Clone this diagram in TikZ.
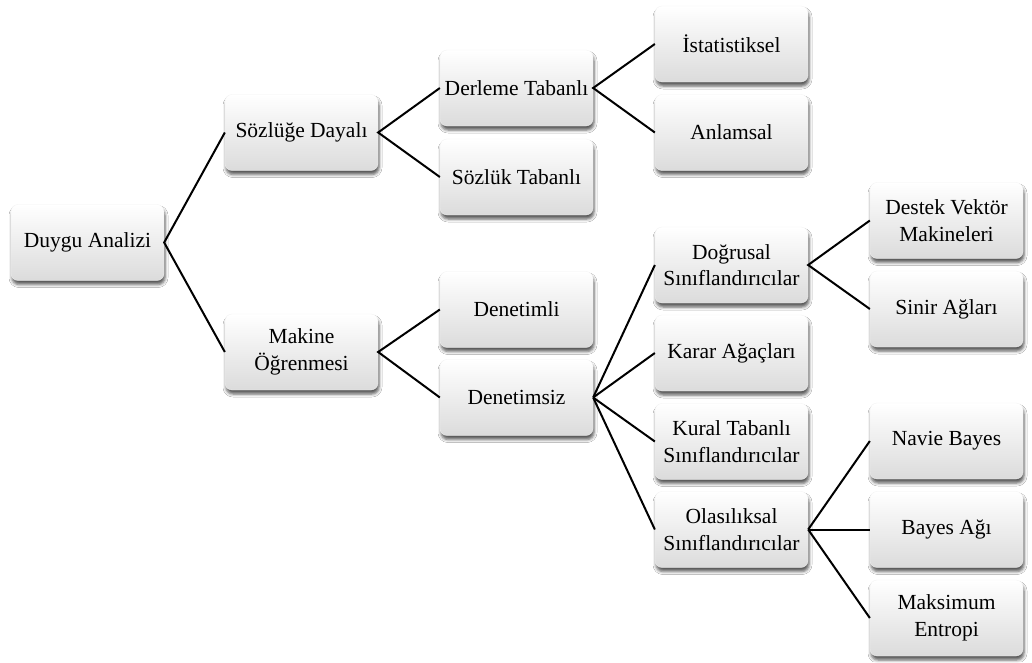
\documentclass[tikz,border=0pt]{standalone}
\usepackage{fontspec}
\setmainfont{Liberation Serif}
\usetikzlibrary{shadows.blur}
\begin{document}
\begin{tikzpicture}[x=1pt,y=-1pt,
  box/.style={rectangle, rounded corners=7pt, minimum width=153pt, minimum height=76pt,
    inner sep=0pt, align=center, top color=white, bottom color=black!14, draw=black!5, line width=0.3pt,
    font=\fontsize{21.5}{26.5}\selectfont,
    blur shadow={shadow xshift=1pt, shadow yshift=-4pt, shadow blur radius=3pt, shadow opacity=65}},
  conn/.style={line width=2pt, black}]
\useasboundingbox (0,0) rectangle (1032,662);
\fill[white] (0,0) rectangle (1032,662);
% level 0
\node[box] (da) at (87.5,242.5) {Duygu Analizi};
% level 1
\node[box] (sd) at (301.5,132.5) {Sözlüğe Dayalı};
\node[box] (mo) at (301.5,352) {Makine\\Öğrenmesi};
% level 2
\node[box] (dt) at (516.5,88) {Derleme Tabanlı};
\node[box] (st) at (516.5,177) {Sözlük Tabanlı};
\node[box] (dl) at (516.5,309.5) {Denetimli};
\node[box] (ds) at (516.5,397.5) {Denetimsiz};
% level 3
\node[box] (is) at (731.5,44) {İstatistiksel};
\node[box] (an) at (731.5,132.5) {Anlamsal};
\node[box] (ds1) at (731.5,265) {Doğrusal\\Sınıflandırıcılar};
\node[box] (ka) at (731.5,353) {Karar Ağaçları};
\node[box] (kt) at (731.5,441.5) {Kural Tabanlı\\Sınıflandırıcılar};
\node[box] (os) at (731.5,529.5) {Olasılıksal\\Sınıflandırıcılar};
% level 4
\node[box] (dv) at (946.5,220.5) {Destek Vektör\\Makineleri};
\node[box] (sa) at (946.5,309) {Sinir Ağları};
\node[box] (nb) at (946.5,441) {Navie Bayes};
\node[box] (ba) at (946.5,529.5) {Bayes Ağı};
\node[box] (me) at (946.5,618) {Maksimum\\Entropi};
% connectors
\draw[conn] (sd.west) -- (da.east) -- (mo.west);
\draw[conn] (dt.west) -- (sd.east) -- (st.west);
\draw[conn] (is.west) -- (dt.east) -- (an.west);
\draw[conn] (dl.west) -- (mo.east) -- (ds.west);
\draw[conn] (ds.east) -- (ds1.west);
\draw[conn] (ds.east) -- (ka.west);
\draw[conn] (ds.east) -- (kt.west);
\draw[conn] (ds.east) -- (os.west);
\draw[conn] (dv.west) -- (ds1.east) -- (sa.west);
\draw[conn] (os.east) -- (nb.west);
\draw[conn] (os.east) -- (ba.west);
\draw[conn] (os.east) -- (me.west);
\end{tikzpicture}
\end{document}
